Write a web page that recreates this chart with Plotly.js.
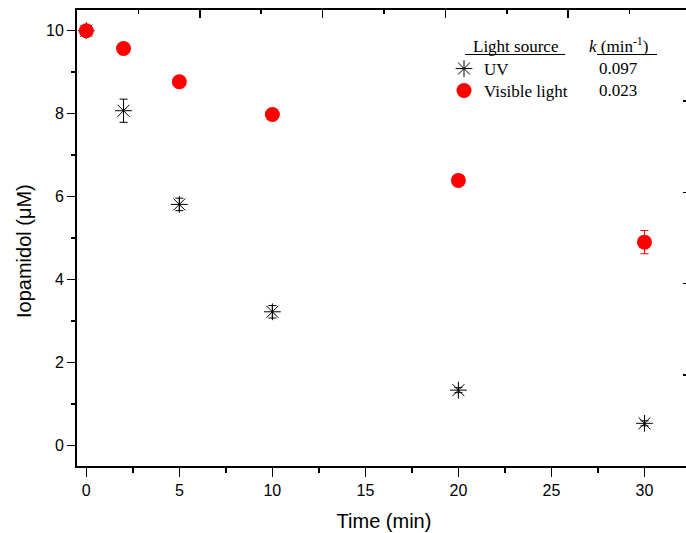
<!DOCTYPE html>
<html>
<head>
<meta charset="utf-8">
<script src="https://cdn.plot.ly/plotly-3.0.1.min.js"></script>
<style>html,body{margin:0;padding:0;overflow:hidden;background:#fff;}</style>
</head>
<body>
<div id="chart"></div>
<script>
// ---- data ----
const timeMin = [0, 2, 5, 10, 20, 30];
const uvValues = [10, 8.07, 5.81, 3.22, 1.33, 0.53];
const uvErrors = [0, 0.28, 0.15, 0.15, 0.06, 0.06];
const visValues = [10, 9.57, 8.77, 7.98, 6.39, 4.90];
const visErrors = [0, 0.08, 0.08, 0.08, 0.08, 0.28];
const seriesNames = ["UV", "Visible light"];
const rateHeader = ["Light source", "<i>k</i> (min<sup>-1</sup>)"];
const rateValues = ["0.097", "0.023"];

// ---- layout geometry helpers ----
const W = 692, H = 533;
const M = {l: 77, r: 1, t: 10, b: 67};
const PW = W - M.l - M.r, PH = H - M.t - M.b;
const px = v => (v - M.l) / PW;
const py = v => 1 - (v - M.t) / PH;

const serif = "Liberation Serif, Times New Roman, serif";
const sans = "Arial, Liberation Sans, sans-serif";

const legendStyle = (topPx) => ({
  x: px(444), y: py(topPx), xanchor: "left", yanchor: "top",
  bgcolor: "rgba(0,0,0,0)", borderwidth: 0,
  font: {family: serif, size: 17, color: "#000"}
});

const traces = [
  {
    x: timeMin, y: uvValues, name: seriesNames[0], type: "scatter", mode: "markers",
    legend: "legend",
    marker: {symbol: "asterisk-open", size: 14, color: "#000", line: {color: "#000", width: 1}},
    error_y: {type: "data", array: uvErrors, visible: true, color: "#000", thickness: 1, width: 4}
  },
  {
    x: timeMin, y: visValues, name: seriesNames[1], type: "scatter", mode: "markers",
    legend: "legend2",
    marker: {symbol: "circle", size: 15, color: "#ff0000"},
    error_y: {type: "data", array: visErrors, visible: true, color: "#ff0000", thickness: 1, width: 4}
  },
  {x: [], y: [], xaxis: "x2", yaxis: "y2", showlegend: false, hoverinfo: "skip"}
];

const layout = {
  width: W, height: H,
  margin: M,
  paper_bgcolor: "#fff", plot_bgcolor: "#fff",
  font: {family: sans, color: "#000", size: 16},
  showlegend: true,
  legend: legendStyle(51),
  legend2: legendStyle(73),
  xaxis: {
    range: [-0.5, 32.5], tick0: 0, dtick: 5, showgrid: false, zeroline: false,
    showline: true, linewidth: 2, linecolor: "#000",
    ticks: "outside", ticklen: 9, tickwidth: 1.5, tickcolor: "#000",
    minor: {dtick: 2.5, ticks: "outside", ticklen: 5, tickwidth: 1.5, tickcolor: "#000", showgrid: false},
    tickfont: {family: sans, size: 16, color: "#000"},
    title: {text: "Time (min)", font: {family: sans, size: 20, color: "#000"}, standoff: 16}
  },
  yaxis: {
    range: [-0.5, 10.5], tick0: 0, dtick: 2, showgrid: false, zeroline: false,
    showline: true, linewidth: 2, linecolor: "#000",
    ticks: "outside", ticklen: 8, tickwidth: 1.5, tickcolor: "#000",
    minor: {dtick: 1, ticks: "outside", ticklen: 4, tickwidth: 1.5, tickcolor: "#000", showgrid: false},
    tickfont: {family: sans, size: 16, color: "#000"}
  },
  xaxis2: {
    overlaying: "x", side: "top", anchor: "y", range: [0, 5], dtick: 1, tick0: 0,
    showgrid: false, zeroline: false, showticklabels: false,
    showline: true, linewidth: 2, linecolor: "#000",
    ticks: "inside", ticklen: 8, tickwidth: 1.5, tickcolor: "#000",
    minor: {dtick: 0.5, ticks: "inside", ticklen: 4, tickwidth: 1.5, tickcolor: "#000", showgrid: false}
  },
  yaxis2: {
    overlaying: "y", side: "right", anchor: "x", range: [0, 5], dtick: 1, tick0: 0,
    showgrid: false, zeroline: false, showticklabels: false,
    showline: true, linewidth: 2, linecolor: "#000",
    ticks: "inside", ticklen: 8, tickwidth: 1.5, tickcolor: "#000",
    minor: {dtick: 0.5, ticks: "inside", ticklen: 4, tickwidth: 1.5, tickcolor: "#000", showgrid: false}
  },
  annotations: [
    {text: "Iopamidol (μM)", textangle: -90, xref: "paper", yref: "paper",
     x: px(24), y: py(251), xanchor: "center", yanchor: "middle", showarrow: false,
     font: {family: sans, size: 20, color: "#000"}},
    {text: rateHeader[0], xref: "paper", yref: "paper", x: px(515), y: py(46),
     xanchor: "center", yanchor: "middle", showarrow: false, font: {family: serif, size: 17, color: "#000"}},
    {text: rateHeader[1], xref: "paper", yref: "paper", x: px(618), y: py(45),
     xanchor: "center", yanchor: "middle", showarrow: false, font: {family: serif, size: 17, color: "#000"}},
    {text: rateValues[0], xref: "paper", yref: "paper", x: px(597), y: py(68),
     xanchor: "left", yanchor: "middle", showarrow: false, font: {family: serif, size: 17, color: "#000"}},
    {text: rateValues[1], xref: "paper", yref: "paper", x: px(597), y: py(90),
     xanchor: "left", yanchor: "middle", showarrow: false, font: {family: serif, size: 17, color: "#000"}}
  ],
  shapes: [
    {type: "line", xref: "paper", yref: "paper", x0: px(465), x1: px(565), y0: py(54.5), y1: py(54.5),
     line: {color: "#000", width: 1}},
    {type: "line", xref: "paper", yref: "paper", x0: px(597), x1: px(657), y0: py(54.5), y1: py(54.5),
     line: {color: "#000", width: 1}}
  ]
};

Plotly.newPlot("chart", traces, layout, {displayModeBar: false, staticPlot: true});
</script>
</body>
</html>
